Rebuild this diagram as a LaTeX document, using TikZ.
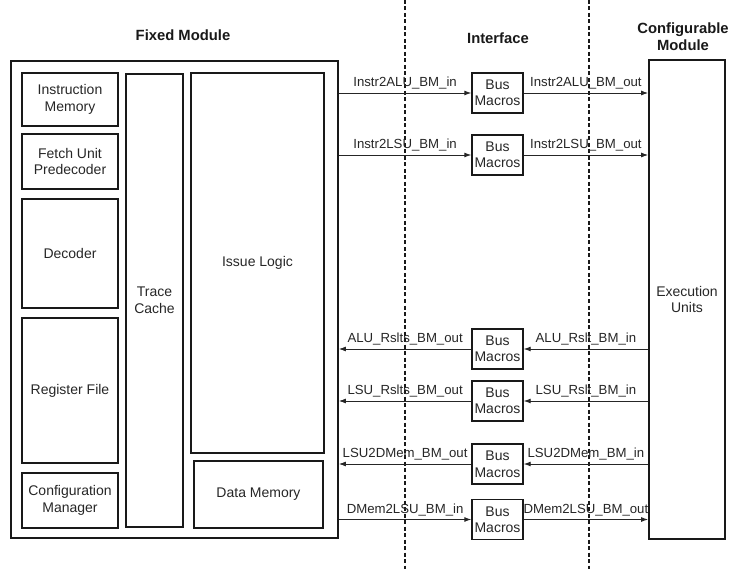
\documentclass[tikz,border=0pt]{standalone}
\usepackage{fontspec}
\setmainfont{Liberation Sans}
\usetikzlibrary{arrows.meta}
\tikzset{
  box/.style={draw=black!90, line width=1.4pt, inner sep=0pt, align=center, text=black!85, font=\fontsize{14}{16.5}\selectfont},
  outerbox/.style={draw=black!90, line width=1.8pt, inner sep=0pt},
  busbox/.style={box, minimum width=51pt, minimum height=40pt},
  title/.style={align=center, text=black!90, font=\fontsize{14.8}{17}\selectfont\bfseries},
  arr/.style={draw=black!85, line width=0.9pt, -{Latex[length=7pt,width=5pt]}},
  lbl/.style={anchor=base, yshift=6.5pt, inner sep=0pt, text=black!85, font=\fontsize{13.2}{15}\selectfont},
  sep/.style={draw=black!90, line width=1.3pt, dash pattern=on 4pt off 2.5pt},
}
\begin{document}
\begin{tikzpicture}[x=1pt,y=-1pt]
\useasboundingbox (0,0) rectangle (733,569);
% titles
\node[title] (tfixed) at (183,35) {Fixed Module};
\node[title] (tint) at (498,38) {Interface};
\node[title] (tconf) at (683,37) {Configurable\\Module};
% separators
\coordinate (s1t) at (405,0); \coordinate (s1b) at (405,569);
\coordinate (s2t) at (589,0); \coordinate (s2b) at (589,569);
\draw[sep] (s1t) -- (s1b);
\draw[sep] (s2t) -- (s2b);
% fixed module
\node[outerbox, minimum width=327pt, minimum height=477pt] (fixed) at (174.5,299.5) {};
\node[box, minimum width=96pt, minimum height=53pt] (imem) at (70,99.5) {Instruction\\Memory};
\node[box, minimum width=96pt, minimum height=55pt] (fetch) at (70,161.5) {Fetch Unit\\Predecoder};
\node[box, minimum width=96pt, minimum height=109pt] (dec) at (70,253.5) {Decoder};
\node[box, minimum width=96pt, minimum height=145pt] (reg) at (70,390.5) {Register File};
\node[box, minimum width=96pt, minimum height=55pt] (cfg) at (70,500.5) {Configuration\\Manager};
\node[box, minimum width=57pt, minimum height=453pt] (trace) at (154.5,300.5) {Trace\\Cache};
\node[box, minimum width=133pt, minimum height=380pt] (issue) at (257.5,263) {Issue Logic};
\node[box, minimum width=129pt, minimum height=67pt] (dmem) at (258.5,494.5) {Data Memory};
% configurable module
\node[outerbox, minimum width=76pt, minimum height=479pt, align=center, text=black!85, font=\fontsize{14}{16.5}\selectfont] (exec) at (687,299.5) {Execution\\Units};
% bus macros
\node[busbox] (b1) at (497.5,93) {Bus\\Macros};
\node[busbox] (b2) at (497.5,155) {Bus\\Macros};
\node[busbox] (b3) at (497.5,349) {Bus\\Macros};
\node[busbox] (b4) at (497.5,401) {Bus\\Macros};
\node[busbox] (b5) at (497.5,464) {Bus\\Macros};
\node[busbox] (b6) at (497.5,519.5) {Bus\\Macros};
% right-going
\draw[arr] (fixed.east |- b1) -- node[lbl] {Instr2ALU\_BM\_in} (b1.west);
\draw[arr] (b1.east) -- node[lbl] {Instr2ALU\_BM\_out} (exec.west |- b1);
\draw[arr] (fixed.east |- b2) -- node[lbl] {Instr2LSU\_BM\_in} (b2.west);
\draw[arr] (b2.east) -- node[lbl] {Instr2LSU\_BM\_out} (exec.west |- b2);
\draw[arr] (fixed.east |- b6) -- node[lbl] {DMem2LSU\_BM\_in} (b6.west);
\draw[arr] (b6.east) -- node[lbl] {DMem2LSU\_BM\_out} (exec.west |- b6);
% left-going
\draw[arr] (exec.west |- b3) -- node[lbl] {ALU\_Rslt\_BM\_in} (b3.east);
\draw[arr] (b3.west) -- node[lbl] {ALU\_Rslts\_BM\_out} (fixed.east |- b3);
\draw[arr] (exec.west |- b4) -- node[lbl] {LSU\_Rslt\_BM\_in} (b4.east);
\draw[arr] (b4.west) -- node[lbl] {LSU\_Rslts\_BM\_out} (fixed.east |- b4);
\draw[arr] (exec.west |- b5) -- node[lbl] {LSU2DMem\_BM\_in} (b5.east);
\draw[arr] (b5.west) -- node[lbl] {LSU2DMem\_BM\_out} (fixed.east |- b5);
\end{tikzpicture}
\end{document}
